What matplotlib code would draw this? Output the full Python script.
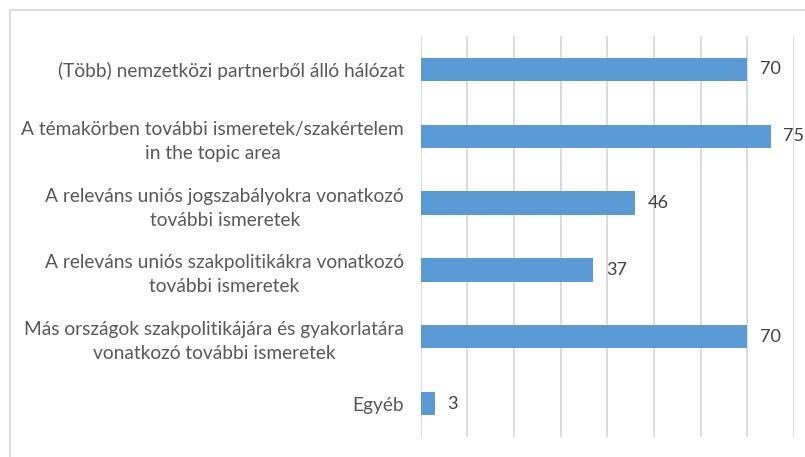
import matplotlib
matplotlib.use("Agg")
import matplotlib.pyplot as plt
from matplotlib.patches import Rectangle

categories = [
    "(Több) nemzetközi partnerből álló hálózat",
    "A témakörben további ismeretek/szakértelem\nin the topic area",
    "A releváns uniós jogszabályokra vonatkozó\ntovábbi ismeretek",
    "A releváns uniós szakpolitikákra vonatkozó\ntovábbi ismeretek",
    "Más országok szakpolitikájára és gyakorlatára\nvonatkozó további ismeretek",
    "Egyéb",
]
values = [70, 75, 46, 37, 70, 3]

BAR = "#5B9BD5"
GRID = "#D9D9D9"
TXT = "#595959"

plt.rcParams["font.family"] = ["Lato", "DejaVu Sans"]

fig = plt.figure(figsize=(8.05, 4.57), dpi=100)
ax = fig.add_axes([0.5226, 0.0438, 0.4637, 0.8775])

y = list(range(len(categories)))
ax.barh(y, values, height=0.35, color=BAR, zorder=3)
for yi, v in zip(y, values):
    ax.annotate(str(v), (v, yi), xytext=(9, 0), textcoords="offset points",
                va="center", ha="left", fontsize=13, color="#404040")

ax.set_xlim(0, 80)
ax.set_ylim(len(categories) - 0.5, -0.5)
ax.set_xticks(range(0, 81, 10))
ax.xaxis.grid(True, color=GRID, lw=1.3, zorder=0)
ax.tick_params(axis="x", length=0, labelbottom=False)
ax.set_yticks(y)
ax.set_yticklabels(categories, fontsize=13.8, color=TXT, ha="right",
                   multialignment="center", linespacing=1.5)
ax.tick_params(axis="y", length=0, pad=12)
for s in ax.spines.values():
    s.set_visible(False)

# outer chart frame (only top/left visible in the crop)
fig.patches.append(Rectangle((10 / 805, -0.05), 1.2, 1.05 - 10 / 457,
                             transform=fig.transFigure, fill=False,
                             edgecolor=GRID, lw=1.3))

fig.savefig("out.png", dpi=100)
